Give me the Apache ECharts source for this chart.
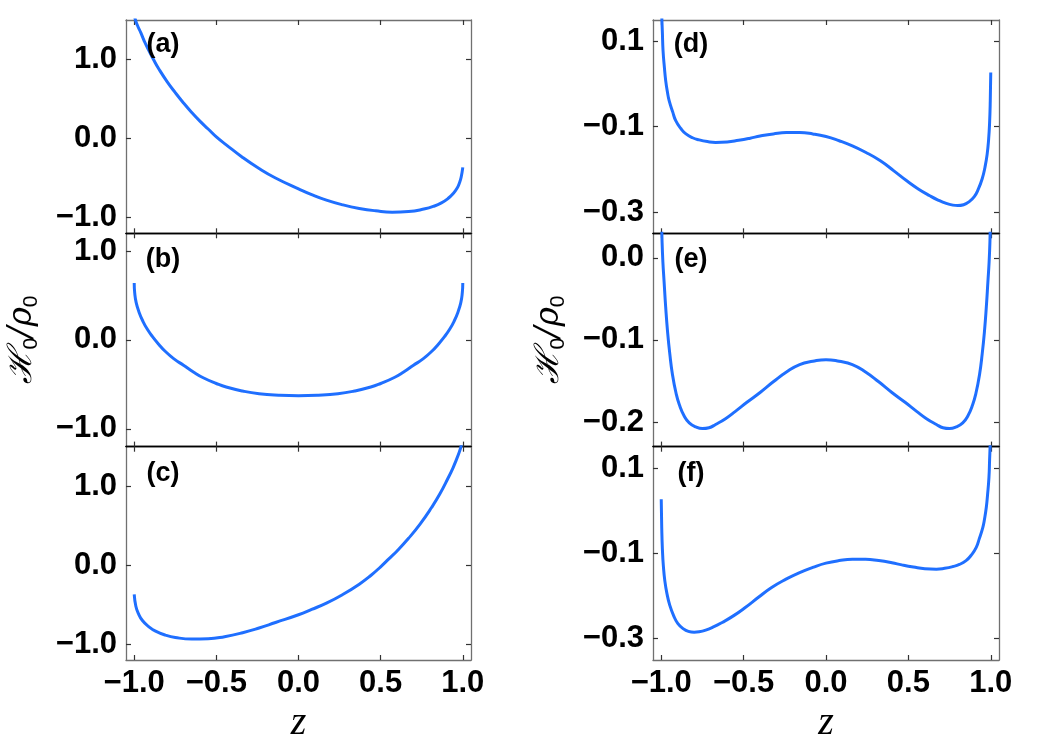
<!DOCTYPE html>
<html>
<head>
<meta charset="utf-8">
<script src="https://cdn.jsdelivr.net/npm/echarts@6/dist/echarts.min.js"></script>
<style>
  html, body { margin: 0; padding: 0; background: #fff; }
  #chart { width: 1042px; height: 746px; }
</style>
</head>
<body>
<div id="chart"></div>
<script>
// values
var zTicks = [-1, -0.5, 0, 0.5, 1];

var zA = [-1, -0.995, -0.98, -0.96, -0.94, -0.92, -0.88, -0.85, -0.8, -0.75, -0.7, -0.65, -0.6, -0.55, -0.5, -0.44, -0.34, -0.24, -0.14, 0, 0.08, 0.17, 0.27, 0.37, 0.47, 0.57, 0.67, 0.77, 0.82, 0.87, 0.91, 0.94, 0.965, 0.98, 0.99, 1];
var hA = [1.62, 1.52, 1.43, 1.34, 1.24, 1.15, 0.99, 0.88, 0.72, 0.58, 0.45, 0.33, 0.22, 0.12, 0.02, -0.08, -0.24, -0.38, -0.5, -0.637, -0.71, -0.78, -0.84, -0.885, -0.915, -0.932, -0.925, -0.89, -0.86, -0.815, -0.76, -0.7, -0.63, -0.56, -0.49, -0.365];

var zB = [-1, -0.997, -0.988, -0.97, -0.947, -0.92, -0.89, -0.85, -0.81, -0.76, -0.7, -0.64, -0.58, -0.5, -0.44, -0.34, -0.24, -0.12, 0, 0.12, 0.24, 0.34, 0.44, 0.5, 0.58, 0.64, 0.7, 0.76, 0.81, 0.85, 0.89, 0.92, 0.947, 0.97, 0.988, 0.997, 1];
var hB = [0.64, 0.53, 0.42, 0.31, 0.21, 0.12, 0.04, -0.05, -0.13, -0.21, -0.285, -0.36, -0.425, -0.49, -0.53, -0.575, -0.605, -0.622, -0.628, -0.622, -0.605, -0.575, -0.53, -0.49, -0.425, -0.36, -0.285, -0.21, -0.13, -0.05, 0.04, 0.12, 0.21, 0.31, 0.42, 0.53, 0.64];

var zC = [-1, -0.99, -0.975, -0.95, -0.91, -0.87, -0.81, -0.75, -0.65, -0.55, -0.45, -0.34, -0.24, -0.14, 0, 0.08, 0.17, 0.27, 0.37, 0.44, 0.5, 0.55, 0.6, 0.67, 0.74, 0.81, 0.86, 0.91, 0.94, 0.96, 0.98, 0.99, 1];
var hC = [-0.37, -0.52, -0.61, -0.7, -0.78, -0.835, -0.885, -0.915, -0.935, -0.932, -0.905, -0.855, -0.795, -0.725, -0.627, -0.56, -0.48, -0.37, -0.24, -0.13, -0.02, 0.08, 0.18, 0.34, 0.52, 0.73, 0.9, 1.1, 1.23, 1.33, 1.44, 1.51, 1.62];

var zD = [-1, -0.996, -0.993, -0.989, -0.98, -0.973, -0.962, -0.952, -0.93, -0.912, -0.88, -0.85, -0.81, -0.77, -0.72, -0.67, -0.6, -0.53, -0.46, -0.4, -0.32, -0.24, -0.16, -0.08, 0, 0.08, 0.16, 0.24, 0.33, 0.41, 0.49, 0.56, 0.63, 0.68, 0.73, 0.77, 0.8, 0.835, 0.865, 0.9, 0.925, 0.948, 0.965, 0.978, 0.987, 0.993, 0.997, 1];
var hD = [0.2, 0.15, 0.12, 0.078, 0.035, 0.008, -0.02, -0.039, -0.066, -0.086, -0.105, -0.117, -0.126, -0.131, -0.135, -0.137, -0.136, -0.132, -0.127, -0.122, -0.117, -0.114, -0.114, -0.117, -0.123, -0.133, -0.145, -0.16, -0.18, -0.203, -0.227, -0.246, -0.262, -0.272, -0.28, -0.284, -0.285, -0.283, -0.277, -0.264, -0.246, -0.222, -0.195, -0.165, -0.13, -0.09, -0.04, 0.027];

var zE = [-1, -0.995, -0.99, -0.983, -0.973, -0.962, -0.948, -0.932, -0.91, -0.89, -0.86, -0.83, -0.79, -0.75, -0.71, -0.67, -0.61, -0.55, -0.48, -0.4, -0.32, -0.24, -0.16, -0.08, 0, 0.08, 0.16, 0.24, 0.32, 0.4, 0.48, 0.55, 0.61, 0.67, 0.71, 0.75, 0.79, 0.83, 0.86, 0.89, 0.91, 0.932, 0.948, 0.962, 0.973, 0.983, 0.99, 0.995, 1];
var hE = [0.06, 0.02, -0.005, -0.028, -0.06, -0.089, -0.117, -0.142, -0.165, -0.179, -0.193, -0.201, -0.206, -0.208, -0.207, -0.203, -0.196, -0.187, -0.176, -0.164, -0.151, -0.139, -0.13, -0.126, -0.124, -0.126, -0.13, -0.139, -0.151, -0.164, -0.176, -0.187, -0.196, -0.203, -0.207, -0.208, -0.206, -0.201, -0.193, -0.179, -0.165, -0.142, -0.117, -0.089, -0.06, -0.028, -0.005, 0.02, 0.06];

var zF = [-1, -0.997, -0.993, -0.987, -0.978, -0.965, -0.948, -0.925, -0.9, -0.865, -0.835, -0.8, -0.77, -0.73, -0.68, -0.63, -0.56, -0.49, -0.41, -0.33, -0.24, -0.16, -0.08, 0, 0.08, 0.16, 0.24, 0.32, 0.4, 0.46, 0.53, 0.6, 0.67, 0.72, 0.77, 0.81, 0.85, 0.88, 0.912, 0.93, 0.952, 0.962, 0.973, 0.98, 0.989, 0.993, 0.996, 1];
var hF = [0.027, -0.04, -0.09, -0.13, -0.165, -0.195, -0.222, -0.246, -0.264, -0.277, -0.283, -0.285, -0.284, -0.28, -0.272, -0.262, -0.246, -0.227, -0.203, -0.18, -0.16, -0.145, -0.133, -0.123, -0.117, -0.114, -0.114, -0.117, -0.122, -0.127, -0.132, -0.136, -0.137, -0.135, -0.131, -0.126, -0.117, -0.105, -0.086, -0.066, -0.039, -0.02, 0.008, 0.035, 0.078, 0.12, 0.15, 0.2];

var ticksA = [-1, 0, 1];
var ticksB = [-1, 0, 1];
var ticksC = [-1, 0, 1];
var ticksD = [-0.3, -0.1, 0.1];
var ticksE = [-0.2, -0.1, 0];
var ticksF = [-0.3, -0.1, 0.1];

var panelNames = ['(a)', '(b)', '(c)', '(d)', '(e)', '(f)'];

var panels = [
  { col: 0, row: 0, z: zA, h: hA, min: -1.2, max: 1.5, ticks: ticksA },
  { col: 0, row: 1, z: zB, h: hB, min: -1.2, max: 1.2, ticks: ticksB },
  { col: 0, row: 2, z: zC, h: hC, min: -1.2, max: 1.5, ticks: ticksC },
  { col: 1, row: 0, z: zD, h: hD, min: -0.35, max: 0.15, ticks: ticksD },
  { col: 1, row: 1, z: zE, h: hE, min: -0.23, max: 0.03, ticks: ticksE },
  { col: 1, row: 2, z: zF, h: hF, min: -0.35, max: 0.15, ticks: ticksF }
];

var colLeft = [126, 653];
var colWidth = [345, 346];
var rowTop = [20, 233.3, 446.7];
var rowHeight = 213.3;

var lineColor = '#1f6fff';
var frameColor = '#707070';
var font = 'Liberation Sans, Arial, sans-serif';

function fmt (v) {
  if (Math.abs(v) < 1e-9) return '0.0';
  return (v < 0 ? '\u2212' : '') + Math.abs(v).toFixed(1);
}

var labelStyle = {
  fontSize: 31,
  fontWeight: 'bold',
  fontFamily: font,
  color: '#000'
};

var grids = [], xAxes = [], yAxes = [], series = [], graphics = [];

panels.forEach(function (p, i) {
  grids.push({
    left: colLeft[p.col],
    top: rowTop[p.row],
    width: colWidth[p.col],
    height: rowHeight,
    containLabel: false
  });

  var last = p.row === 2;
  // bottom x axis
  xAxes.push({
    gridIndex: i,
    type: 'value',
    position: 'bottom',
    min: -1.05,
    max: 1.05,
    axisLine: { show: true, onZero: false, lineStyle: { color: last ? frameColor : '#000', width: 1.3 } },
    axisTick: { show: true, inside: true, length: 5, customValues: zTicks, lineStyle: { color: '#333', width: 1.2 } },
    axisLabel: Object.assign({ show: last, margin: 8, customValues: zTicks, formatter: fmt }, labelStyle),
    splitLine: { show: false },
    name: last ? 'z' : '',
    nameLocation: 'middle',
    nameGap: 43,
    nameTextStyle: { fontSize: 40, fontStyle: 'italic', fontFamily: 'Liberation Serif, serif', color: '#000' }
  });
  // top x axis
  xAxes.push({
    gridIndex: i,
    type: 'value',
    position: 'top',
    min: -1.05,
    max: 1.05,
    axisLine: { show: true, onZero: false, lineStyle: { color: p.row === 0 ? frameColor : '#000', width: 1.3 } },
    axisTick: { show: true, inside: true, length: 5, customValues: zTicks, lineStyle: { color: '#333', width: 1.2 } },
    axisLabel: { show: false },
    splitLine: { show: false }
  });

  // left y axis
  var yName = p.row === 1 ? '{h|\u210B}{s|0}{h|/\u03C1}{s|0}' : '';
  yAxes.push({
    gridIndex: i,
    type: 'value',
    position: 'left',
    min: p.min,
    max: p.max,
    axisLine: { show: true, onZero: false, lineStyle: { color: frameColor, width: 1.3 } },
    axisTick: { show: true, inside: true, length: 5, customValues: p.ticks, lineStyle: { color: '#333', width: 1.2 } },
    axisLabel: Object.assign({ margin: 9, customValues: p.ticks, formatter: fmt }, labelStyle),
    splitLine: { show: false },
    name: yName,
    nameLocation: 'middle',
    nameRotate: 90,
    nameGap: 84,
    nameTextStyle: {
      color: '#000',
      rich: {
        h: { fontSize: 33, fontFamily: 'DejaVu Serif, serif', fontStyle: 'italic', color: '#000', lineHeight: 40 },
        s: { fontSize: 21, fontFamily: 'Liberation Sans, sans-serif', color: '#000', lineHeight: 40, verticalAlign: 'bottom' }
      }
    }
  });
  // right y axis
  yAxes.push({
    gridIndex: i,
    type: 'value',
    position: 'right',
    min: p.min,
    max: p.max,
    axisLine: { show: true, onZero: false, lineStyle: { color: frameColor, width: 1.3 } },
    axisTick: { show: true, inside: true, length: 5, customValues: p.ticks, lineStyle: { color: '#333', width: 1.2 } },
    axisLabel: { show: false },
    splitLine: { show: false }
  });

  series.push({
    type: 'line',
    xAxisIndex: 2 * i,
    yAxisIndex: 2 * i,
    showSymbol: false,
    smooth: 0.5,
    clip: true,
    lineStyle: { color: lineColor, width: 3 },
    data: p.z.map(function (z, k) { return [z, p.h[k]]; })
  });

  // panel letter
  graphics.push({
    type: 'text',
    x: p.col === 0 ? 163 : 691,
    y: [45, 260, 474][p.row],
    z: 100,
    style: {
      text: panelNames[i],
      font: 'bold 27px Liberation Sans, Arial, sans-serif',
      fill: '#000',
      textAlign: 'center',
      textVerticalAlign: 'middle',
      align: 'center',
      verticalAlign: 'middle'
    }
  });
});

var myChart = echarts.init(document.getElementById('chart'), null, { renderer: 'canvas' });
myChart.setOption({
  animation: false,
  backgroundColor: '#fff',
  grid: grids,
  xAxis: xAxes,
  yAxis: yAxes,
  series: series,
  graphic: graphics
});
</script>
</body>
</html>
